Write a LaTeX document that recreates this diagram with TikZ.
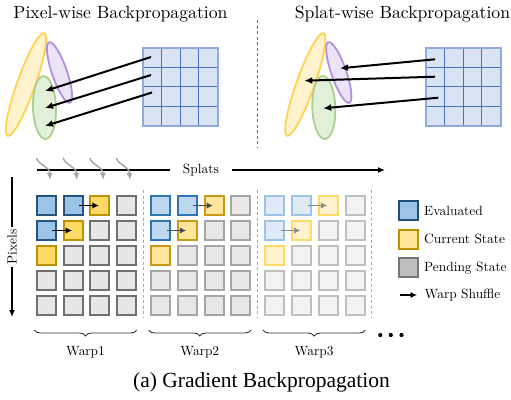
\documentclass[tikz,border=0pt]{standalone}
\usepackage{fontspec}
\setmainfont{lmroman10-regular.otf}
\newfontfamily\capfont{Liberation Serif}
\usetikzlibrary{shapes.geometric,arrows.meta,decorations.pathreplacing,calc}
\definecolor{gridF}{HTML}{DAE3F3}
\definecolor{gridL}{HTML}{4472C4}
\definecolor{gridB}{HTML}{8FAADC}
\definecolor{ylD}{HTML}{FFD24D}
\definecolor{ylF}{HTML}{FFF2CC}
\definecolor{puD}{HTML}{B28FE0}
\definecolor{puF}{HTML}{EAE4F6}
\definecolor{grD}{HTML}{A9D18E}
\definecolor{grF}{HTML}{E2F0D9}
\definecolor{sepC}{HTML}{8FAADC}
% warp 1
\definecolor{E1f}{HTML}{9DC3E6}\definecolor{E1d}{HTML}{24557F}
\definecolor{C1f}{HTML}{FFD966}\definecolor{C1d}{HTML}{BF9000}
\definecolor{P1f}{HTML}{E6E6E6}\definecolor{P1d}{HTML}{707070}
% warp 2
\definecolor{E2f}{HTML}{BDD7EE}\definecolor{E2d}{HTML}{2E75B6}
\definecolor{C2f}{HTML}{FFE699}\definecolor{C2d}{HTML}{C99A1A}
\definecolor{P2f}{HTML}{E7E7E7}\definecolor{P2d}{HTML}{A6A6A6}
% warp 3
\definecolor{E3f}{HTML}{DEEBF7}\definecolor{E3d}{HTML}{9DC3E6}
\definecolor{C3f}{HTML}{FFF2CC}\definecolor{C3d}{HTML}{FFD966}
\definecolor{P3f}{HTML}{F2F2F2}\definecolor{P3d}{HTML}{BFBFBF}
% legend
\definecolor{LEf}{HTML}{9DC3E6}\definecolor{LEd}{HTML}{1F4E79}
\definecolor{LCf}{HTML}{FFE699}\definecolor{LCd}{HTML}{BF9000}
\definecolor{LPf}{HTML}{BFBFBF}\definecolor{LPd}{HTML}{767676}
\definecolor{hookC}{HTML}{A6A6A6}
\begin{document}
\begin{tikzpicture}[x=1bp,y=-1bp,
  ell/.style={ellipse, inner sep=0pt, line width=1.8bp},
  sq/.style={rectangle, minimum size=19bp, inner sep=0pt, line width=2bp},
  sqE1/.style={sq, draw=E1d, fill=E1f}, sqC1/.style={sq, draw=C1d, fill=C1f}, sqP1/.style={sq, draw=P1d, fill=P1f},
  sqE2/.style={sq, draw=E2d, fill=E2f}, sqC2/.style={sq, draw=C2d, fill=C2f}, sqP2/.style={sq, draw=P2d, fill=P2f},
  sqE3/.style={sq, draw=E3d, fill=E3f}, sqC3/.style={sq, draw=C3d, fill=C3f}, sqP3/.style={sq, draw=P3d, fill=P3f},
  shufbase/.style={line width=1.7bp, -{Latex[length=6.5bp,width=6.5bp]}},
  shuf1/.style={shufbase, draw=black, shorten <=6bp, shorten >=1bp},
  shuf2/.style={shufbase, draw=black!70, shorten <=6bp, shorten >=1bp},
  shuf3/.style={shufbase, draw=black!45, shorten <=6bp, shorten >=1bp},
  bigarrow/.style={line width=2bp, -{Latex[length=8bp,width=7bp]}},
  axisarrow/.style={line width=1.4bp, -{Latex[length=7bp,width=6bp]}},
  small/.style={font=\fontsize{13.4bp}{16bp}\selectfont},
  title/.style={font=\fontsize{17.7bp}{20bp}\selectfont, anchor=base},
  hook/.style={draw=hookC, line width=1.5bp, -{Latex[length=7bp,width=6bp]}},
  sepline/.style={draw=sepC, line width=1bp, dash pattern=on 3bp off 2.5bp},
  wbrace/.style={decorate, decoration={brace, mirror, amplitude=6bp}, line width=0.9bp, draw=black!80}
]
\useasboundingbox (0,0) rectangle (511,399);

% ---------- titles ----------
\node[title] (tL) at (120.5,18.3) {Pixel-wise Backpropagation};
\node[title] (tR) at (402.5,18.3) {Splat-wise Backpropagation};

% ---------- separator top ----------
\coordinate (dTop) at (257,20);
\coordinate (dBot) at (257,148);
\draw[draw=gridL, line width=1bp, dash pattern=on 3bp off 2.5bp] (dTop) -- (dBot);

% ---------- ellipses ----------
\foreach \s/\dx in {L/0, R/279.3} {
  \node[ell, draw=ylD, fill=ylF, minimum width=109bp, minimum height=18bp, rotate=70.4] (y\s) at (26+\dx,84.5) {};
  \node[ell, draw=puD, fill=puF, minimum width=64bp, minimum height=15bp, rotate=109] (p\s) at (59.5+\dx,72.5) {};
  \node[ell, draw=grD, fill=grF, minimum width=63bp, minimum height=23bp, rotate=92] (g\s) at (44.5+\dx,107.5) {};
}

% ---------- image grids ----------
\foreach \s/\gx in {L/142.5, R/425.5} {
  \node[rectangle, inner sep=0pt, minimum width=75bp, minimum height=78bp, fill=gridF, draw=none, anchor=north west] (grid\s) at (\gx,47.7) {};
  \foreach \i in {1,2,3} {
    \draw[gridL, line width=1bp] ($(grid\s.north west)+(\i*18.75,0)$) -- ($(grid\s.south west)+(\i*18.75,0)$);
    \draw[gridL, line width=1bp] ($(grid\s.north west)+(0,\i*19.5)$) -- ($(grid\s.north east)+(0,\i*19.5)$);
  }
  \draw[gridB, line width=2bp] (grid\s.north west) rectangle (grid\s.south east);
}

% ---------- pixel-wise arrows ----------
\coordinate (sL1) at (151,57);   \coordinate (eL1) at (45,91);
\coordinate (sL2) at (151,75);   \coordinate (eL2) at (45,108);
\coordinate (sL3) at (152,92.5); \coordinate (eL3) at (45,126);
\draw[bigarrow] (sL1) -- (eL1);
\draw[bigarrow] (sL2) -- (eL2);
\draw[bigarrow] (sL3) -- (eL3);

% ---------- splat-wise arrows ----------
\coordinate (sR1) at (435,59.3);   \coordinate (eR1) at (340,68.3);
\coordinate (sR2) at (435,76.7);   \coordinate (eR2) at (304.3,80.7);
\coordinate (sR3) at (438.3,97.7); \coordinate (eR3) at (323.3,108.3);
\draw[bigarrow] (sR1) -- (eR1);
\draw[bigarrow] (sR2) -- (eR2);
\draw[bigarrow] (sR3) -- (eR3);

% ---------- splats axis ----------
\coordinate (spA) at (37,170);
\coordinate (spB) at (385,170);
\draw[axisarrow] (spA) -- (spB) node[pos=0.471, fill=white, inner xsep=13bp, inner ysep=2bp, small] (splats) {Splats};

% gray hook arrows
\foreach \k in {0,1,2,3} {
  \draw[hook] ({36.5+26.6*\k},158) .. controls ({39.5+26.6*\k},166) and ({49.5+26.6*\k},166) .. ({50+26.6*\k},180);
}

% ---------- pixels axis ----------
\coordinate (pxA) at (12,177);
\coordinate (pxB) at (12,317);
\draw[axisarrow] (pxA) -- (pxB) node[midway, fill=white, rotate=90, inner xsep=3bp, inner ysep=1bp, small] (pixels) {Pixels};

% ---------- warp squares ----------
\foreach \w in {1,2,3} {
  \foreach \r in {0,...,4} {
    \foreach \c in {0,...,3} {
      \pgfmathtruncatemacro\ssum{\r+\c}
      \ifnum\ssum<2 \def\st{E}\else\ifnum\ssum=2 \def\st{C}\else\def\st{P}\fi\fi
      \node[sq\st\w] (w\w r\r c\c) at ({46.2+114.3*(\w-1)+26.8*\c},{205.5+25*\r}) {};
    }
  }
  \draw[shuf\w] (w\w r0c1.center) -- (w\w r0c2.center);
  \draw[shuf\w] (w\w r1c0.center) -- (w\w r1c1.center);
}

% separators
\foreach \k in {0,1,2} {
  \draw[sepline] ({143.3+114.3*\k},190) -- ({143.3+114.3*\k},318);
}

% braces and labels
\foreach \w in {1,2,3} {
  \coordinate (bA\w) at ({34.3+114.3*(\w-1)},330);
  \coordinate (bB\w) at ({136.7+114.3*(\w-1)},330);
  \draw[wbrace] (bA\w) -- (bB\w);
  \node[small] (warp\w) at ({85.5+114.3*(\w-1)},352) {Warp\w};
}

% dots
\fill (380.3,335) circle (2.1);
\fill (390.8,335) circle (2.1);
\fill (401.5,335) circle (2.1);

% ---------- legend ----------
\node[sq, draw=LEd, fill=LEf] (legE) at (408.3,210.5) {};
\node[small, anchor=west, inner sep=0pt] (legEt) at (424,210.5) {Evaluated};
\node[sq, draw=LCd, fill=LCf] (legC) at (408.3,239.3) {};
\node[small, anchor=west, inner sep=0pt] (legCt) at (424,239.3) {Current State};
\node[sq, draw=LPd, fill=LPf] (legP) at (408.3,267.7) {};
\node[small, anchor=west, inner sep=0pt] (legPt) at (424,267.7) {Pending State};
\coordinate (legA0) at (400,295);
\coordinate (legA1) at (417,295);
\draw[shufbase] (legA0) -- (legA1);
\node[small, anchor=west, inner sep=0pt] (legAt) at (424.5,295) {Warp Shuffle};

% ---------- caption ----------
\node[font=\capfont\fontsize{21.5bp}{25bp}\selectfont, anchor=base] (cap) at (261.5,387) {(a) Gradient Backpropagation};
\end{tikzpicture}
\end{document}
